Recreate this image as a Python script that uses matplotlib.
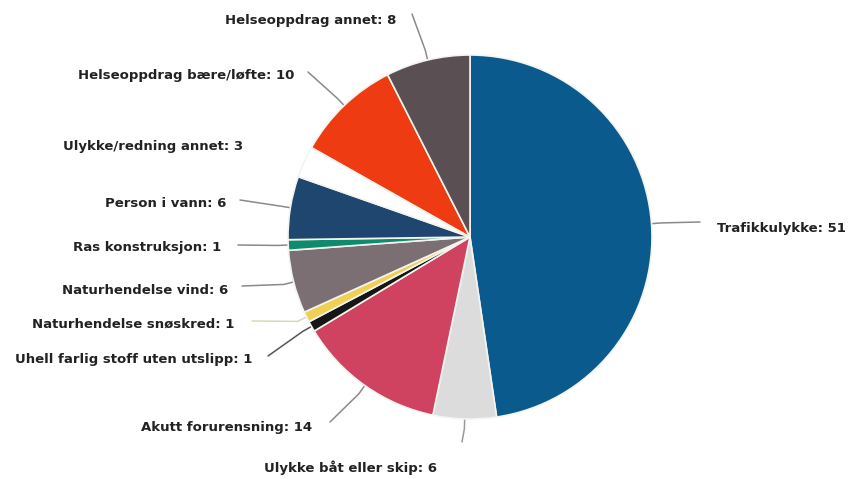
import numpy as np
import matplotlib.pyplot as plt


# ============================================================
# Data
# ============================================================

CATEGORIES = [
    "Trafikkulykke",
    "Ulykke båt eller skip",
    "Akutt forurensning",
    "Uhell farlig stoff uten utslipp",
    "Naturhendelse snøskred",
    "Naturhendelse vind",
    "Ras konstruksjon",
    "Person i vann",
    "Ulykke/redning annet",
    "Helseoppdrag bære/løfte",
    "Helseoppdrag annet",
]

COUNTS = [51, 6, 14, 1, 1, 6, 1, 6, 3, 10, 8]

COLORS = [
    "#0b5a8e", "#dcdcdc", "#cf4260", "#161616", "#f0cf55", "#7b6f73",
    "#0e8a6c", "#1e466f", "#ffffff", "#ee3b12", "#5a4f52",
]


# ============================================================
# Layout (pixel coordinates, y measured from the top)
# ============================================================

W, H = 851, 479
CX, CY, R = 470, 237, 182

# label anchor: (x, y, horizontal alignment)
LABEL_POS = [
    (717, 228, "left"),
    (350, 468, "center"),
    (312, 427, "right"),
    (252, 360, "right"),
    (234, 324, "right"),
    (228, 290, "right"),
    (221, 247, "right"),
    (226, 203, "right"),
    (243, 146, "right"),
    (294, 75, "right"),
    (396, 20, "right"),
]

# where the connector leaves the label
CONNECTOR_END = [
    (700, 222), (462, 442), (330, 422), (268, 356), (252, 321),
    (242, 286), (238, 245), (240, 200), (258, 143), (308, 72), (412, 14),
]

CONNECTOR_COLORS = [
    "#8a8a8a", "#9a9a9a", "#8a8a8a", "#555555", "#d8d8b8", "#8a8a8a",
    "#8a8a8a", "#8a8a8a", "#ffffff", "#8a8a8a", "#8a8a8a",
]


def flip(py):
    return H - py


def main():
    fig = plt.figure(figsize=(W / 100, H / 100), dpi=100)
    ax = fig.add_axes([0, 0, 1, 1])

    wedges, _ = ax.pie(
        COUNTS,
        colors=COLORS,
        startangle=90,
        counterclock=False,
        center=(CX, flip(CY)),
        radius=R,
        frame=True,
        wedgeprops=dict(edgecolor="#f4f4ee", linewidth=1.2),
    )

    for i, w in enumerate(wedges):
        mid = np.deg2rad((w.theta1 + w.theta2) / 2)
        x0 = CX + R * np.cos(mid)
        y0 = flip(CY) + R * np.sin(mid)
        x1 = CX + (R + 10) * np.cos(mid)
        y1 = flip(CY) + (R + 10) * np.sin(mid)
        ex, ey = CONNECTOR_END[i]
        ax.plot([x0, x1, ex], [y0, y1, flip(ey)],
                color=CONNECTOR_COLORS[i], linewidth=1.1,
                solid_capstyle="round", zorder=0)

        lx, ly, ha = LABEL_POS[i]
        ax.text(lx, flip(ly), f"{CATEGORIES[i]}: {COUNTS[i]}",
                ha=ha, va="center", fontsize=9.5, fontweight="bold",
                color="#222222")

    ax.set_xlim(0, W)
    ax.set_ylim(0, H)
    ax.set_aspect("equal")
    ax.axis("off")

    fig.savefig("out.png", dpi=100, facecolor="white")
    plt.close(fig)


if __name__ == "__main__":
    main()
